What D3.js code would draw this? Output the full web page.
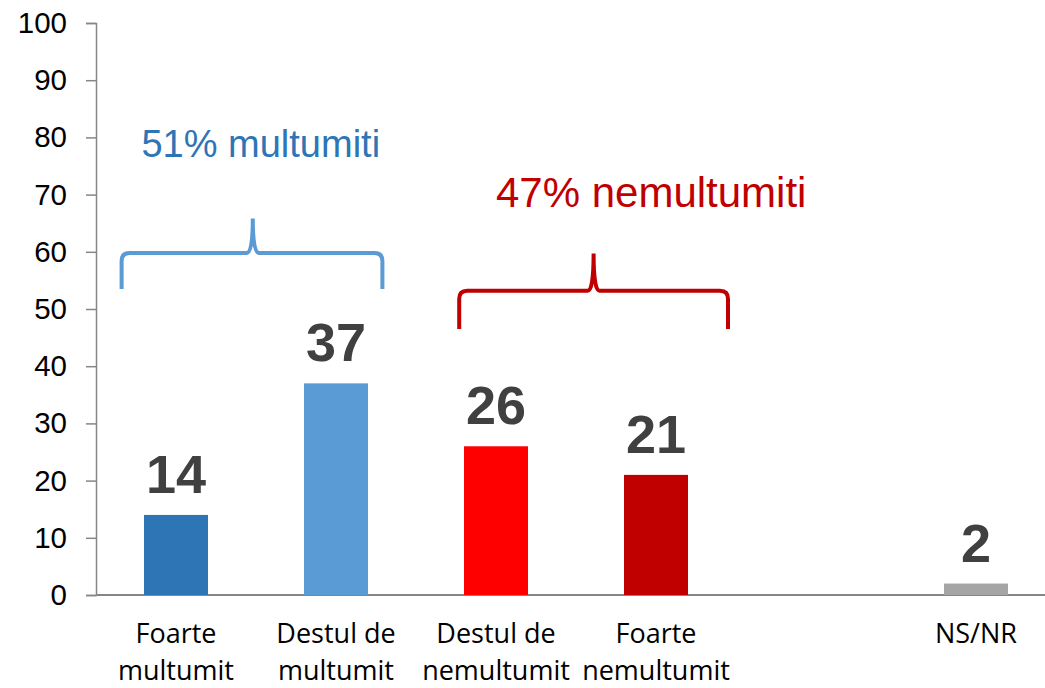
<!DOCTYPE html>
<html>
<head>
<meta charset="utf-8">
<title>Multumiti / nemultumiti</title>
<style>
  body { margin: 0; background: #fff; }
  svg { display: block; }
</style>
</head>
<body>
<script src="https://cdn.jsdelivr.net/npm/d3@7"></script>
<script>
// chart values
var categories = ["Foarte\nmultumit", "Destul de\nmultumit", "Destul de\nnemultumit", "Foarte\nnemultumit", "", "NS/NR"];
var values = [14, 37, 26, 21, null, 2];
var colors = ["#2E75B6", "#5B9BD5", "#FF0000", "#C00000", "none", "#A5A5A5"];
var yTicks = [0, 10, 20, 30, 40, 50, 60, 70, 80, 90, 100];

// group brackets: from/to in category slots, y levels in data units
var groups = [
  {label: "51% multumiti", color: "#5B9BD5", text: "#2E75B6", size: 38, from: 0.16, to: 1.79, mid: 0.98, line: 59.8, ends: 53.5, top: 65.8, textY: 76.6, textX: 1.03},
  {label: "47% nemultumiti", color: "#C00000", text: "#C00000", size: 42, from: 2.27, to: 3.95, mid: 3.11, line: 53.2, ends: 46.5, top: 59.7, textY: 67.8, textX: 3.47}
];

var width = 1045, height = 688;
var margin = {top: 23, left: 96, bottom: 93};

var svg = d3.select("body").append("svg")
  .attr("width", width)
  .attr("height", height);

var x = d3.scaleBand()
  .domain(d3.range(categories.length))
  .range([margin.left, margin.left + 160 * categories.length])
  .paddingInner(0.6).paddingOuter(0.3);

var y = d3.scaleLinear().domain([0, 100]).range([height - margin.bottom, margin.top]);

// slot position helper (in units of category steps)
var slot = d3.scaleLinear().domain([0, categories.length]).range([margin.left, margin.left + 160 * categories.length]);

// y axis
var yAxis = svg.append("g")
  .attr("transform", "translate(" + margin.left + ",0)")
  .call(d3.axisLeft(y).tickValues(yTicks).tickSize(10).tickPadding(19));
yAxis.select(".domain").attr("stroke", "#868686").attr("stroke-width", 1.5);
yAxis.selectAll(".tick line").attr("stroke", "#868686").attr("stroke-width", 1.5);
yAxis.selectAll(".tick text")
  .attr("font-family", "Liberation Sans, Arial, sans-serif")
  .attr("font-size", 29.5)
  .attr("fill", "#000");

// baseline
svg.append("line")
  .attr("x1", margin.left).attr("x2", width)
  .attr("y1", y(0)).attr("y2", y(0))
  .attr("stroke", "#868686").attr("stroke-width", 2);

// bars
var data = values.map(function(v, i) { return {i: i, v: v}; }).filter(function(d) { return d.v !== null; });

svg.selectAll("rect.bar")
  .data(data)
  .enter().append("rect")
  .attr("class", "bar")
  .attr("x", function(d) { return x(d.i); })
  .attr("width", x.bandwidth())
  .attr("y", function(d) { return y(d.v); })
  .attr("height", function(d) { return y(0) - y(d.v); })
  .attr("fill", function(d) { return colors[d.i]; });

// value labels
svg.selectAll("text.val")
  .data(data)
  .enter().append("text")
  .attr("class", "val")
  .attr("x", function(d) { return x(d.i) + x.bandwidth() / 2; })
  .attr("y", function(d) { return y(d.v) - 22; })
  .attr("text-anchor", "middle")
  .attr("font-family", "Liberation Sans, Arial, sans-serif")
  .attr("font-weight", "bold")
  .attr("font-size", 54)
  .attr("fill", "#404040")
  .text(function(d) { return d.v; });

// category labels
svg.selectAll("text.cat")
  .data(categories)
  .enter().append("text")
  .attr("class", "cat")
  .attr("text-anchor", "middle")
  .attr("font-family", "Open Sans, sans-serif")
  .attr("font-size", 27)
  .attr("fill", "#000")
  .each(function(c, i) {
    var lines = c.split("\n");
    var t = d3.select(this);
    lines.forEach(function(l, k) {
      t.append("tspan")
        .attr("x", x(i) + x.bandwidth() / 2)
        .attr("y", y(0) + 48 + k * 37)
        .text(l);
    });
  });

// brackets
function bracket(g) {
  var x0 = slot(g.from), x1 = slot(g.to), xm = slot(g.mid);
  var yl = y(g.line), ye = y(g.ends), yt = y(g.top);
  var r = 8;
  return "M" + x0 + "," + ye +
    " L" + x0 + "," + (yl + r) +
    " Q" + x0 + "," + yl + " " + (x0 + r) + "," + yl +
    " L" + (xm - 6) + "," + yl +
    " Q" + xm + "," + yl + " " + xm + "," + yt +
    " Q" + xm + "," + yl + " " + (xm + 6) + "," + yl +
    " L" + (x1 - r) + "," + yl +
    " Q" + x1 + "," + yl + " " + x1 + "," + (yl + r) +
    " L" + x1 + "," + ye;
}

svg.selectAll("path.brace")
  .data(groups)
  .enter().append("path")
  .attr("class", "brace")
  .attr("d", bracket)
  .attr("fill", "none")
  .attr("stroke", function(g) { return g.color; })
  .attr("stroke-width", 4);

svg.selectAll("text.grp")
  .data(groups)
  .enter().append("text")
  .attr("class", "grp")
  .attr("x", function(g) { return slot(g.textX); })
  .attr("y", function(g) { return y(g.textY); })
  .attr("text-anchor", "middle")
  .attr("font-family", "Liberation Sans, Arial, sans-serif")
  .attr("font-size", function(g) { return g.size; })
  .attr("fill", function(g) { return g.text; })
  .text(function(g) { return g.label; });
</script>
</body>
</html>
